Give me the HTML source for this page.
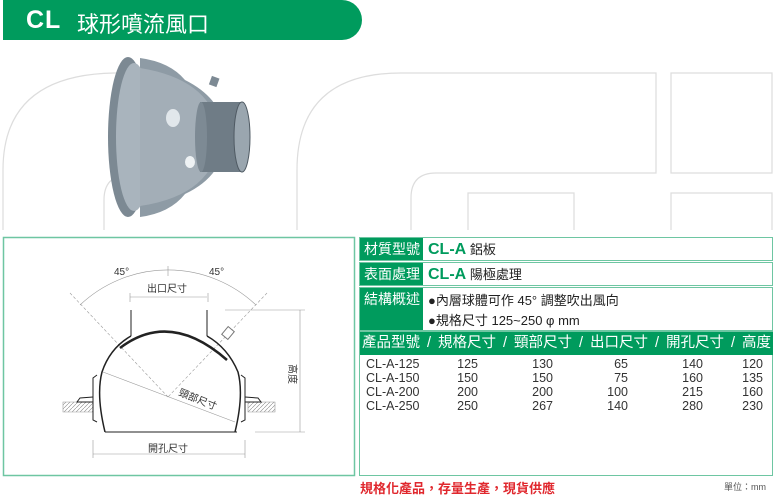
<!DOCTYPE html>
<html><head><meta charset="utf-8"><style>
*{margin:0;padding:0;box-sizing:border-box}
body{width:775px;height:500px;background:#fff;position:relative;overflow:hidden;font-family:"Liberation Sans","Noto Sans CJK TC",sans-serif}
.abs{position:absolute}
.hdr{left:3px;top:0;width:359px;height:40px;background:#009b5d;border-radius:0 20px 20px 0;color:#fff}
.lab{background:#009b5d;color:#fff;font-size:14px;line-height:22px;padding-left:4px;width:63px}
.g{color:#009b5d;font-weight:bold;font-size:16px}
.row{font-size:13px;color:#222}
.d{position:absolute;font-size:12.5px;color:#333;text-align:right}
</style></head><body>
<svg class="abs" style="left:0;top:0" width="775" height="500">
<g fill="none" stroke="#ddd" stroke-width="1.2">
<path d="M3 230 L3 170 Q3 75 114 73 L125 73"/>
<path d="M104 230 L104 200 Q104 175 129 175"/>
<path d="M297 230 L297 170 Q297 73 401 73 L656 73 L656 173 L436 173 Q411 173 411 198 L411 230"/>
<path d="M671 73 L772 73 L772 173 L671 173 Z"/>
<path d="M468 230 L468 193 L574 193 L574 230"/>
<path d="M671 230 L671 193 L772 193 L772 230"/>
</g>
<!-- product -->
<path d="M140 58 Q170 62 185 80 Q225 100 225 137 Q225 175 185 194 Q170 213 140 217 Z" fill="#8e9ba5"/>
<ellipse cx="128" cy="137" rx="20" ry="80" fill="#7c8993"/>
<ellipse cx="134" cy="137" rx="18" ry="74" fill="#a9b4bd"/>
<path d="M140 68 Q215 80 220 137 Q215 195 140 206 Z" fill="#a3aeb7"/>
<ellipse cx="173" cy="118" rx="7" ry="9" fill="#e1e7eb"/>
<ellipse cx="190" cy="162" rx="5" ry="6" fill="#eef2f4"/>
<rect x="200" y="102" width="42" height="70" fill="#6f7c86"/>
<ellipse cx="201" cy="137" rx="6" ry="35" fill="#7d8a94"/>
<ellipse cx="242" cy="137" rx="8" ry="35" fill="#9aa6af" stroke="#4f5a63"/>
<rect x="210" y="77" width="8" height="9" fill="#7d8a94" transform="rotate(20 214 82)"/>
<!-- panels -->
<rect x="3.5" y="237.5" width="351" height="238" fill="none" stroke="#6ec6a2" stroke-width="1.5"/>
<rect x="359.5" y="237.5" width="413" height="23" fill="none" stroke="#6ec6a2"/>
<rect x="359.5" y="262.5" width="413" height="23" fill="none" stroke="#6ec6a2"/>
<rect x="359.5" y="287.5" width="413" height="43" fill="none" stroke="#6ec6a2"/>
<rect x="359.5" y="331.5" width="413" height="144" fill="none" stroke="#6ec6a2"/>
<rect x="360" y="332" width="413" height="23" fill="#009b5d"/>
<defs><pattern id="h" width="4" height="4" patternUnits="userSpaceOnUse"><path d="M0 4 L4 0" stroke="#888" stroke-width="0.6"/></pattern></defs>
<g stroke="#999" stroke-width="0.6" fill="none">
<path d="M63 402 L93 402 L93 412 L63 412 Z M248 402 L275 402 L275 412 L248 412 Z" fill="url(#h)"/>
<path d="M70 293 L168 397 M267 293 L168 397" stroke-dasharray="3 2"/>
<path d="M80 305 A128 128 0 0 1 256 305"/>
<path d="M103 372 L235 422"/>
<path d="M130 297 L207 297 M130 293 L130 302 M208 293 L208 302"/>
<path d="M225 310 L305 310 M255 432 L305 432 M300 310 L300 432"/>
<path d="M93 454 L245 454 M93 440 L93 458 M245 440 L245 458"/>
<path d="M168 266 L168 276"/>
</g>
<g stroke="#222" fill="none" stroke-width="1">
<path d="M105 432 L237 432"/>
<path d="M131 310 L131 336 M207 310 L207 336"/>
<path d="M131 336 Q110 348 102 372 Q96 395 105 432" stroke-width="1.5"/>
<path d="M207 336 Q228 348 238 372 Q244 395 235 432" stroke-width="1.5"/>
<path d="M120 348 Q170 310 227 360" stroke-width="2.5"/>
<path d="M97 375 L93 378 L93 420 L97 422 M241 375 L245 378 L245 420 L241 422"/>
<path d="M93 397 L80 398 L77 402 L93 402 M245 397 L258 398 L261 402 L245 402"/>
</g>
<rect x="224" y="328" width="8" height="10" fill="#fff" stroke="#777" transform="rotate(40 228 333)"/>
<g font-size="10" fill="#333" font-family="Liberation Sans,Noto Sans CJK TC,sans-serif">
<text x="114" y="275">45°</text><text x="209" y="275">45°</text>
<text x="147" y="292">出口尺寸</text>
<text x="148" y="452">開孔尺寸</text>
<text x="178" y="395" transform="rotate(22 178 395)">頸部尺寸</text>
<text x="289" y="364" transform="rotate(90 289 364)">高度</text>
</g>
</svg>
<div class="abs hdr"><span style="position:absolute;left:23px;top:6px;font-size:25px;font-weight:bold;letter-spacing:1px">CL</span><span style="position:absolute;left:74px;top:7px;font-size:22px">球形噴流風口</span></div>
<div class="abs lab" style="left:360px;top:238px">材質型號</div>
<div class="abs lab" style="left:360px;top:263px">表面處理</div>
<div class="abs lab" style="left:360px;top:288px;height:42px">結構概述</div>
<div class="abs row" style="left:428px;top:239px"><span class="g">CL-A</span> 鋁板</div>
<div class="abs row" style="left:428px;top:264px"><span class="g">CL-A</span> 陽極處理</div>
<div class="abs row" style="left:428px;top:290px">●內層球體可作 45° 調整吹出風向</div>
<div class="abs row" style="left:428px;top:310px">●規格尺寸 125~250 φ mm</div>
<div class="abs" style="left:362px;top:333px;width:409px;color:#fff;font-size:14.5px;line-height:21px;white-space:nowrap;display:flex;justify-content:space-between"><span>產品型號</span><span>/</span><span>規格尺寸</span><span>/</span><span>頸部尺寸</span><span>/</span><span>出口尺寸</span><span>/</span><span>開孔尺寸</span><span>/</span><span>高度</span></div>
<div class="d" style="left:366px;top:357px;text-align:left;line-height:14px">CL-A-125<br>CL-A-150<br>CL-A-200<br>CL-A-250</div>
<div class="d" style="left:430px;top:357px;width:48px;line-height:14px">125<br>150<br>200<br>250</div>
<div class="d" style="left:505px;top:357px;width:48px;line-height:14px">130<br>150<br>200<br>267</div>
<div class="d" style="left:580px;top:357px;width:48px;line-height:14px">65<br>75<br>100<br>140</div>
<div class="d" style="left:655px;top:357px;width:48px;line-height:14px">140<br>160<br>215<br>280</div>
<div class="d" style="left:715px;top:357px;width:48px;line-height:14px">120<br>135<br>160<br>230</div>
<div class="abs" style="left:360px;top:478px;color:#e0282e;font-size:13px;font-weight:bold">規格化產品，存量生產，現貨供應</div>
<div class="abs" style="left:724px;top:480px;color:#555;font-size:9px">單位：mm</div>
</body></html>
